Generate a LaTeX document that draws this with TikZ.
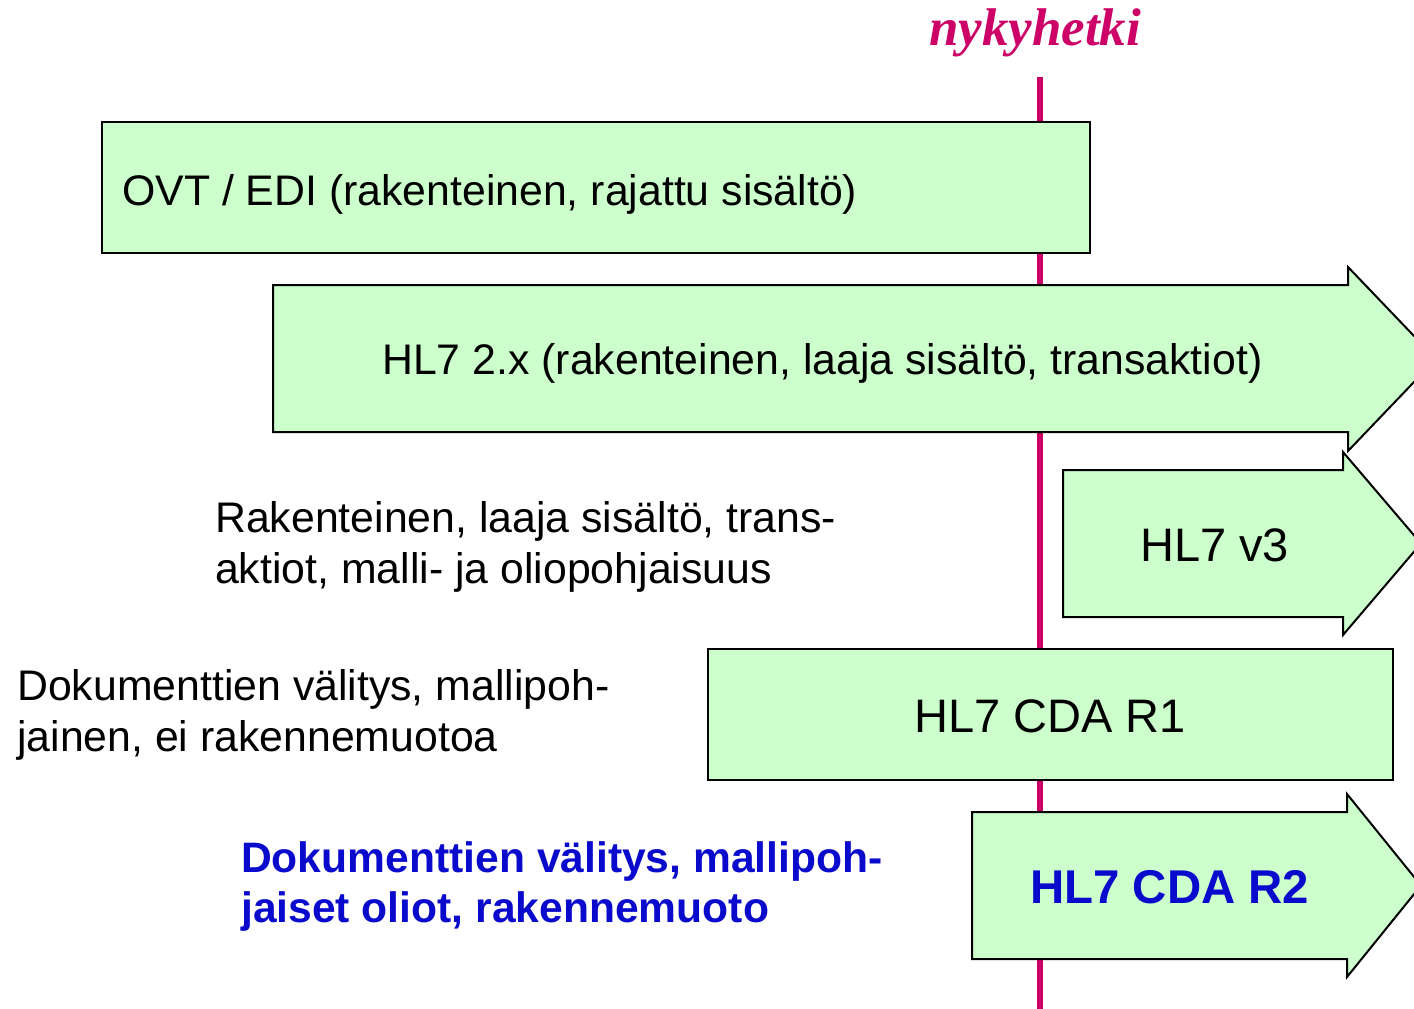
\documentclass[tikz,border=0pt]{standalone}
\usepackage{fontspec}
\setmainfont{Liberation Sans}
\newfontfamily\timesbi{Liberation Serif}
\definecolor{boxgreen}{RGB}{204,255,204}
\definecolor{nowline}{RGB}{204,0,102}
\definecolor{darkblue}{RGB}{10,10,204}
\tikzset{
  shapebox/.style={draw=black, fill=boxgreen, line width=2pt, line join=miter},
  normtext/.style={inner sep=0pt, anchor=base west, font=\fontsize{42.8}{51}\selectfont},
  bigtext/.style={inner sep=0pt, anchor=base west, font=\fontsize{47}{56}\selectfont},
  bluetext/.style={inner sep=0pt, anchor=base west, text=darkblue, font=\fontsize{42.6}{51}\selectfont\bfseries},
}
\begin{document}
\begin{tikzpicture}[x=1pt,y=-1pt]
\useasboundingbox (0,0) rectangle (1414,1009);
\clip (0,0) rectangle (1414,1009);
% time line
\coordinate (lineTop) at (1040,77);
\coordinate (lineBot) at (1040,1012);
\draw[nowline, line width=5.5pt] (lineTop) -- (lineBot);
% OVT / EDI box
\draw[shapebox] (102,122) rectangle (1090,253);
% HL7 2.x arrow
\draw[shapebox] (273,285) -- (1348,285) -- (1348,267) -- (1436,359) -- (1348,451) -- (1348,432) -- (273,432) -- cycle;
% HL7 v3 arrow
\draw[shapebox] (1063,470) -- (1343,470) -- (1343,452) -- (1421,543.5) -- (1343,635) -- (1343,617) -- (1063,617) -- cycle;
% HL7 CDA R1 box
\draw[shapebox] (708,649) rectangle (1393,780);
% HL7 CDA R2 arrow
\draw[shapebox] (972,812) -- (1347,812) -- (1347,794) -- (1421,885.5) -- (1347,977) -- (1347,959) -- (972,959) -- cycle;
% labels
\node[inner sep=0pt, anchor=base, text=nowline, font=\timesbi\fontsize{53}{60}\selectfont\bfseries\itshape] (now) at (1035,45) {nykyhetki};
\node[normtext] (ovt) at (122,205) {OVT / EDI (rakenteinen, rajattu sisältö)};
\node[normtext] (hl7two) at (382,374) {HL7 2.x (rakenteinen, laaja sisältö, transaktiot)};
\node[bigtext] (hl7v3) at (1140,561) {HL7 v3};
\node[bigtext] (cdar1) at (914,732) {HL7 CDA R1};
\node[bigtext, text=darkblue, font=\fontsize{47.4}{56}\selectfont\bfseries] (cdar2) at (1030,903) {HL7 CDA R2};
\node[normtext] (v3a) at (215,532) {Rakenteinen, laaja sisältö, trans-};
\node[normtext] (v3b) at (215,583) {aktiot, malli- ja oliopohjaisuus};
\node[normtext] (r1a) at (17,700) {Dokumenttien välitys, mallipoh-};
\node[normtext] (r1b) at (17,751) {jainen, ei rakennemuotoa};
\node[bluetext] (r2a) at (241,872) {Dokumenttien välitys, mallipoh-};
\node[bluetext] (r2b) at (241,922) {jaiset oliot, rakennemuoto};
\end{tikzpicture}
\end{document}
